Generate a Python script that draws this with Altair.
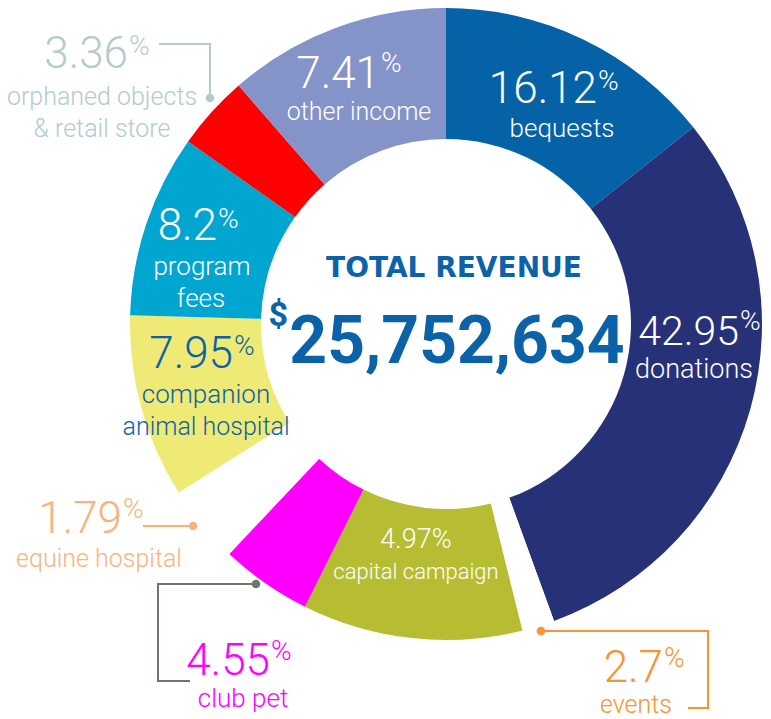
import altair as alt
import pandas as pd

# ---------------- data ----------------
categories = ["bequests", "donations", "events", "capital campaign", "club pet",
              "equine hospital", "companion animal hospital", "program fees",
              "orphaned objects & retail store", "other income"]
shares = [16.12, 42.95, 2.7, 4.97, 4.55, 1.79, 7.95, 8.2, 3.36, 7.41]
# angular extent (degrees) of each sector as drawn in the infographic
arc_degrees = [51.5, 108.5, 6.0, 40.5, 16.8, 14.5, 33.8, 33.7, 13.7, 41.0]
total_revenue = "25,752,634"

# ---------------- styles ----------------
fills = ["#0562a7", "#273178", "#ffffff", "#b6bd33", "#ff00ff",
         "#ffffff", "#eeea75", "#00a6d0", "#ff0000", "#8493c8"]
BLUE = "#0b62a8"
label_colors = {
    "bequests": "#ffffff", "donations": "#ffffff", "events": "#f59533",
    "capital campaign": "#ffffff", "club pet": "#ff00ff",
    "equine hospital": "#f8b37c", "companion animal hospital": BLUE,
    "program fees": "#ffffff", "orphaned objects & retail store": "#b3cbce",
    "other income": "#ffffff",
}
FONT = "Roboto, DejaVu Sans Condensed, sans-serif"

OFF = 8
PCT_SIZE = 28
# digits right edge, digits baseline, % baseline, digit size (page pixels)
num_layout = {
    "bequests": (597, 103, 90, 44),
    "other income": (380, 88, 72, 44),
    "orphaned objects & retail store": (128, 68, 55, 44),
    "program fees": (217, 240, 228, 44),
    "companion animal hospital": (233, 368, 355, 44),
    "donations": (739, 345, 330, 41),
    "equine hospital": (122, 533, 518, 44),
    "club pet": (270, 675, 660, 44),
    "events": (663, 682, 667, 44),
}
# sub-label lines: (text, center x, baseline y, size)
sub_layout = {
    "bequests": [("bequests", 562, 137, 26)],
    "other income": [("other income", 359, 120, 25)],
    "orphaned objects & retail store": [("orphaned objects", 102, 105, 25), ("& retail store", 102, 137, 25)],
    "program fees": [("program", 202, 275, 26), ("fees", 201, 307, 26)],
    "companion animal hospital": [("companion", 206, 403, 26), ("animal hospital", 206, 435, 25)],
    "donations": [("donations", 694, 378, 27)],
    "equine hospital": [("equine hospital", 99, 567, 25)],
    "club pet": [("club pet", 243, 707, 26)],
    "events": [("events", 636, 713, 25)],
    "capital campaign": [("capital campaign", 416, 579, 22)],
}
leaders = {
    "orphaned objects & retail store": [(159, 44), (210, 44), (210, 98)],
    "equine hospital": [(143, 526), (193, 526)],
    "club pet": [(256, 584), (158, 584), (158, 681), (190, 681)],
    "events": [(541, 631), (708, 631), (708, 708), (688, 708)],
}
dot_at = {"orphaned objects & retail store": -1, "equine hospital": -1, "club pet": 0, "events": 0}
leader_colors = {"orphaned objects & retail store": "#b3cbce", "equine hospital": "#f8b37c",
                 "club pet": "#6b7a68", "events": "#f59533"}
CX, CY = 446 - OFF, 324 - OFF

# ---------------- tables ----------------
arcs = pd.DataFrame({"cat": categories, "share": shares, "deg": arc_degrees,
                     "fill": fills, "idx": range(len(categories))})

nums, pcts, subs = [], [], []
for c, s in zip(categories, shares):
    col = label_colors[c]
    if c in num_layout:
        xr, yb, yp, ns = num_layout[c]
        nums.append({"t": f"{s:g}", "x": xr - OFF, "y": yb - OFF, "c": col, "s": ns})
        pcts.append({"t": "%", "x": xr + 1 - OFF, "y": yp - OFF, "c": col, "s": PCT_SIZE})
    elif c == "capital campaign":
        subs.append({"t": f"{s:g}%", "x": 416 - OFF, "y": 548 - OFF, "c": col, "s": 27})
    for t, x, y, sz in sub_layout[c]:
        subs.append({"t": t, "x": x - OFF, "y": y - OFF, "c": col, "s": sz})

lines, dots = [], []
for c, pts in leaders.items():
    for i, (x, y) in enumerate(pts):
        lines.append({"g": c, "o": i, "x": x - OFF, "y": y - OFF, "c": leader_colors[c]})
    dx, dy = pts[dot_at[c]]
    dots.append({"x": dx - OFF, "y": dy - OFF, "c": leader_colors[c]})

px = lambda f: alt.X(f"{f}:Q", scale=None, axis=None)
py = lambda f: alt.Y(f"{f}:Q", scale=None, axis=None)

donut = alt.Chart(arcs).mark_arc(innerRadius=185, outerRadius=316, stroke=None).encode(
    theta=alt.Theta("deg:Q", stack=True, scale=alt.Scale(domain=[0, 360])),
    order=alt.Order("idx:Q"),
    color=alt.Color("fill:N", scale=None),
    x=alt.value(CX), y=alt.value(CY),
)

def text_layer(rows, align, weight=300):
    return alt.Chart(pd.DataFrame(rows)).mark_text(
        align=align, baseline="alphabetic", font=FONT, fontWeight=weight).encode(
        x=px("x"), y=py("y"), text="t:N", color=alt.Color("c:N", scale=None),
        size=alt.Size("s:Q", scale=None))

num_layer = text_layer(nums, "right")
pct_layer = text_layer(pcts, "left")
sub_layer = text_layer(subs, "center")

line_layer = alt.Chart(pd.DataFrame(lines)).mark_line(strokeWidth=2).encode(
    x=px("x"), y=py("y"), detail="g:N", order="o:Q",
    color=alt.Color("c:N", scale=None))

dot_layer = alt.Chart(pd.DataFrame(dots)).mark_circle(size=75, opacity=1).encode(
    x=px("x"), y=py("y"), color=alt.Color("c:N", scale=None))

title_layer = alt.Chart(pd.DataFrame([{"t": "TOTAL REVENUE", "x": 454 - OFF, "y": 277 - OFF}])).mark_text(
    align="center", baseline="alphabetic", font="DejaVu Sans", fontWeight="bold",
    fontSize=28, color=BLUE).encode(x=px("x"), y=py("y"), text="t:N")

big_layer = alt.Chart(pd.DataFrame([{"t": total_revenue, "x": 457 - OFF, "y": 363 - OFF}])).mark_text(
    align="center", baseline="alphabetic", font=FONT, fontWeight="bold",
    fontSize=66, color=BLUE).encode(x=px("x"), y=py("y"), text="t:N")

dollar_layer = alt.Chart(pd.DataFrame([{"t": "$", "x": 288 - OFF, "y": 326 - OFF}])).mark_text(
    align="right", baseline="alphabetic", font=FONT, fontWeight="bold",
    fontSize=34, color=BLUE).encode(x=px("x"), y=py("y"), text="t:N")

chart = alt.layer(donut, line_layer, dot_layer, num_layer, pct_layer, sub_layer,
                  title_layer, big_layer, dollar_layer).properties(
    width=755, height=711, padding=0, autosize="none"
).configure(background="#ffffff", view=alt.ViewConfig(stroke=None))

chart.save("out.html", embed_options={"renderer": "svg", "actions": False})
